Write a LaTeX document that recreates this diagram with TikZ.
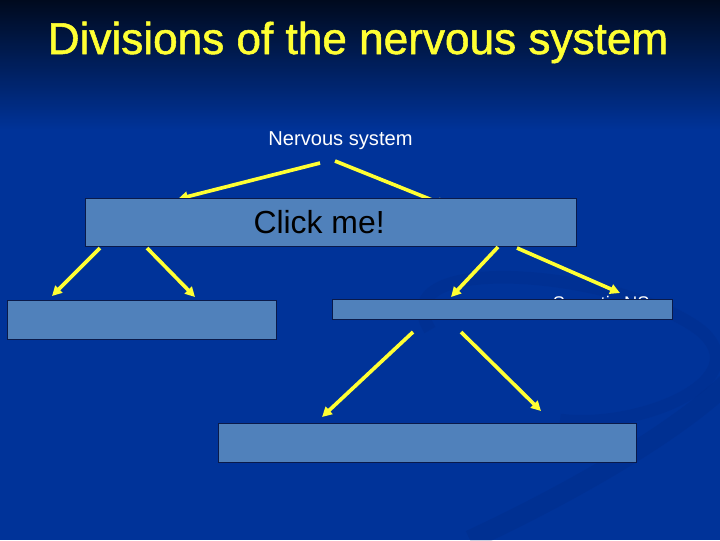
\documentclass[tikz,border=0pt]{standalone}
\usepackage{fontspec}
\setmainfont{Liberation Sans}
\newfontfamily\titlefont[FakeStretch=0.99,FakeBold=1.2]{Liberation Sans}
\usetikzlibrary{arrows.meta,positioning}
\definecolor{slidebg}{HTML}{003399}
\definecolor{slidetop}{HTML}{000A1E}
\definecolor{swirlc}{HTML}{00267A}
\definecolor{titleyel}{HTML}{FFFF33}
\definecolor{boxfill}{HTML}{5081BB}
\definecolor{boxline}{HTML}{0A1A4A}

\begin{document}
\begin{tikzpicture}[x=0.025cm,y=-0.025cm,>={Triangle[length=7pt,width=7pt]},
  pointer/.style={->,line width=2.6pt,titleyel},
  divbox/.style={draw=boxline,line width=0.8pt,fill=boxfill,inner sep=0pt,anchor=north west},
  swirl/.style={swirlc,line width=14pt,opacity=0.2}]
  % slide background
  \fill[slidebg] (0,0) rectangle (720,540);
  \shade[top color=slidetop,bottom color=slidebg] (0,0) rectangle (720,130);
  \useasboundingbox (0,0) rectangle (720,540);
  \begin{scope}
    \clip (0,0) rectangle (720,540);
    \draw[swirl] (470,540) .. controls (620,470) and (760,380) .. (760,330);
    \draw[swirl,line width=9pt,opacity=0.18] (430,330) .. controls (380,250) and (620,270) .. (700,330)
         .. controls (760,380) and (640,430) .. (560,420);
  \end{scope}
  % title
  \node[titleyel,font=\titlefont\fontsize{31.7}{36}\selectfont,anchor=base] (title) at (358,54) {Divisions of the nervous system};
  \node[white,font=\fontsize{14.3}{16}\selectfont,anchor=base] (nervous) at (340.5,145) {Nervous system};
  \coordinate (ns-l) at (320,163);
  \coordinate (ns-r) at (335,161);
  \coordinate (cns) at (178,199);
  \coordinate (pns) at (447,206);
  \draw[pointer] (ns-l) -- (cns);
  \draw[pointer] (ns-r) -- (pns);
  % first level
  \node[divbox,minimum width=12.275cm,minimum height=1.2cm] (level1) at (85,198) {};
  \node[font=\fontsize{22.7}{26}\selectfont] (clickme) at ([xshift=-0.3cm]level1.center) {Click me!};
  \coordinate (l1-a) at (100,248);
  \coordinate (l1-b) at (147,248);
  \coordinate (l1-c) at (498,247);
  \coordinate (l1-d) at (517,248);
  \coordinate (brain) at (52,296);
  \coordinate (cord) at (195,297);
  \coordinate (autonomic) at (451,297);
  \coordinate (somatic) at (620,293);
  \draw[pointer] (l1-a) -- (brain);
  \draw[pointer] (l1-b) -- (cord);
  \draw[pointer] (l1-c) -- (autonomic);
  \draw[pointer] (l1-d) -- (somatic);
  \node[white,font=\fontsize{13}{15}\selectfont,anchor=base west] (somlbl) at (548,309) {Somatic NS};
  % second level
  \node[divbox,minimum width=6.725cm,minimum height=0.975cm] (leftbox) at (7,300) {};
  \node[divbox,minimum width=8.5cm,minimum height=0.5cm] (rightbox) at (332,299) {};
  \coordinate (r2-a) at (413,332);
  \coordinate (r2-b) at (461,332);
  \coordinate (symp) at (322,417);
  \coordinate (parasymp) at (541,411);
  \draw[pointer] (r2-a) -- (symp);
  \draw[pointer] (r2-b) -- (parasymp);
  % third level
  \node[divbox,minimum width=10.45cm,minimum height=0.975cm] (lowbox) at (218,423) {};
\end{tikzpicture}
\end{document}
